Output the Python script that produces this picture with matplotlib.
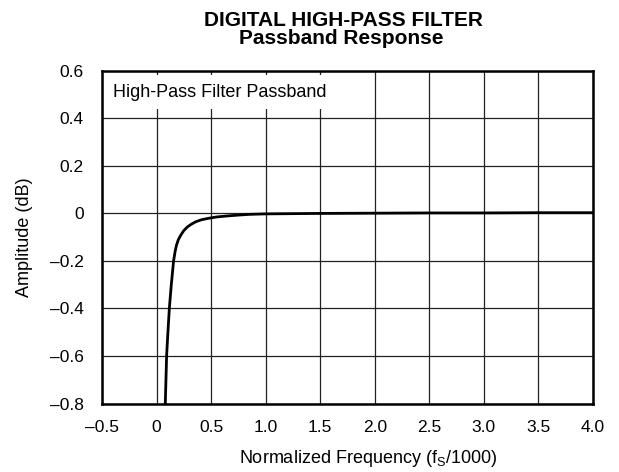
"""Digital high-pass filter passband response."""

import matplotlib.pyplot as plt

plt.rcParams["font.family"] = ["Liberation Sans", "DejaVu Sans"]

# curve (x in fS/1000, amplitude in dB)
freq = [0.072, 0.080, 0.092, 0.104, 0.117, 0.135, 0.156, 0.170, 0.183,
        0.200, 0.224, 0.250, 0.285, 0.32, 0.36, 0.41, 0.47, 0.55, 0.64,
        0.75, 0.85, 1.0, 1.25, 1.5, 2.0, 2.5, 3.0, 3.5, 4.0]
amp = [-0.85, -0.8, -0.6, -0.5, -0.4, -0.3, -0.2, -0.16, -0.133,
       -0.11, -0.09, -0.072, -0.056, -0.045, -0.035, -0.027, -0.021, -0.015,
       -0.011, -0.007, -0.004, -0.002, -0.001, 0.0, 0.001, 0.002, 0.002,
       0.003, 0.003]

x_ticks = [-0.5, 0, 0.5, 1.0, 1.5, 2.0, 2.5, 3.0, 3.5, 4.0]
x_labels = ["–0.5", "0", "0.5", "1.0", "1.5", "2.0", "2.5", "3.0", "3.5", "4.0"]
y_ticks = [-0.8, -0.6, -0.4, -0.2, 0, 0.2, 0.4, 0.6]
y_labels = ["–0.8", "–0.6", "–0.4", "–0.2", "0", "0.2", "0.4", "0.6"]

fig = plt.figure(figsize=(6.19, 4.72), dpi=100)
ax = fig.add_axes([0.1648, 0.145, 0.7932, 0.705])

ax.plot(freq, amp, color="black", linewidth=2.0, zorder=3)

ax.set_xlim(-0.5, 4.0)
ax.set_ylim(-0.8, 0.6)
ax.set_xticks(x_ticks)
ax.set_xticklabels(x_labels)
ax.set_yticks(y_ticks)
ax.set_yticklabels(y_labels)
ax.tick_params(length=0, labelsize=12.5)
ax.tick_params(axis="x", pad=12)
ax.tick_params(axis="y", pad=13)
ax.grid(True, color="#222222", linewidth=0.9)
for spine in ax.spines.values():
    spine.set_linewidth(1.8)

ax.text(-0.4, 0.51, "High-Pass Filter Passband", fontsize=13, va="center",
        ha="left", zorder=4,
        bbox=dict(facecolor="white", edgecolor="none", pad=6))

ax.set_xlabel("Normalized Frequency (f$_\\mathregular{S}$/1000)", fontsize=13,
              labelpad=9.5)
ax.xaxis.set_label_coords(0.542, -0.135)
ax.set_ylabel("Amplitude (dB)", fontsize=13, labelpad=12)

fig.text(343 / 619, 1 - 26 / 472, "DIGITAL HIGH-PASS FILTER", fontsize=15,
         fontweight="bold", ha="center", va="baseline")
fig.text(341 / 619, 1 - 44.5 / 472, "Passband Response", fontsize=15,
         fontweight="bold", ha="center", va="baseline")

fig.savefig("out.png", dpi=100)
